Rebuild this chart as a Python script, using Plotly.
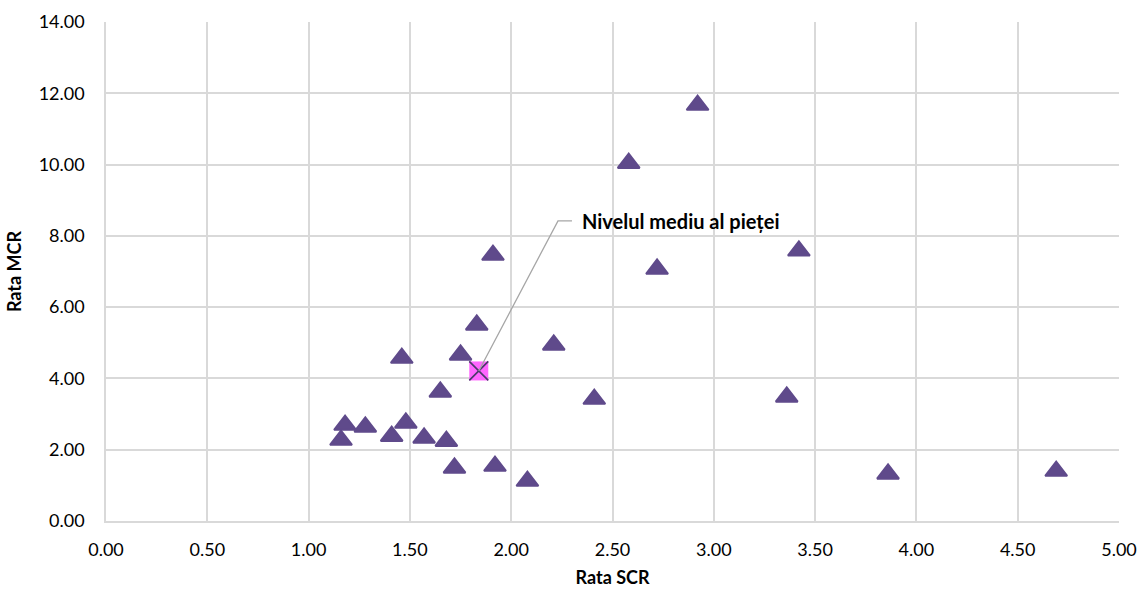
import plotly.graph_objects as go

# Company data: SCR ratio (x) vs MCR ratio (y)
scr = [2.92, 2.58, 1.91, 3.42, 2.72, 1.83, 2.21, 1.46, 1.75, 1.65, 2.41, 3.36,
       1.18, 1.28, 1.48, 1.41, 1.57, 1.68, 1.16, 1.72, 1.92, 2.08, 3.86, 4.69]
mcr = [11.67, 10.04, 7.46, 7.58, 7.07, 5.50, 4.94, 4.57, 4.66, 3.62, 3.42, 3.48,
       2.69, 2.64, 2.75, 2.38, 2.33, 2.24, 2.27, 1.49, 1.54, 1.12, 1.32, 1.40]

# Market average
market_scr = [1.84]
market_mcr = [4.21]
market_label = "Nivelul mediu al pieței"

x_ticks = [0, 0.5, 1.0, 1.5, 2.0, 2.5, 3.0, 3.5, 4.0, 4.5, 5.0]
y_ticks = [0, 2, 4, 6, 8, 10, 12, 14]

# label placement (data coordinates)
label_x, label_y = 2.34, 8.42
elbow_x, elbow_end_x = 2.231, 2.30

FONT = "Lato"
purple = "#5F4A8B"

fig = go.Figure()
fig.add_trace(go.Scatter(
    x=scr, y=mcr, mode="markers",
    marker=dict(symbol="triangle-up", size=19, color=purple,
                line=dict(width=2, color=purple)),
    showlegend=False, hoverinfo="x+y"))

fig.add_shape(type="path",
              path=f"M {market_scr[0]},{market_mcr[0]} L {elbow_x},{label_y} L {elbow_end_x},{label_y}",
              xref="x", yref="y", line=dict(color="#A6A6A6", width=1.3), layer="above")

fig.add_trace(go.Scatter(
    x=market_scr, y=market_mcr, mode="markers",
    marker=dict(symbol="square", size=19, color="#FF66FF", line=dict(width=0)),
    showlegend=False))
fig.add_trace(go.Scatter(
    x=market_scr, y=market_mcr, mode="markers",
    marker=dict(symbol="x-thin-open", size=19, color="#4A3A6A",
                line=dict(width=1.6, color="#4A3A6A")),
    showlegend=False))

fig.add_annotation(x=label_x, y=label_y, xref="x", yref="y", text=f"<b>{market_label}</b>",
                   showarrow=False, xanchor="left", yanchor="middle",
                   font=dict(family=FONT, size=20, color="#000000"))

fig.update_layout(
    width=1142, height=590,
    margin=dict(l=106, r=23, t=22, b=69),
    paper_bgcolor="white", plot_bgcolor="white",
    font=dict(family=FONT, size=18, color="#000000"),
    xaxis=dict(range=[0, 5], tickvals=x_ticks, tickformat=".2f", automargin=False,
               showgrid=True, gridcolor="#D9D9D9", gridwidth=1.5,
               showline=True, linecolor="#D9D9D9", linewidth=1.5,
               zeroline=False, ticks="", ticklabelstandoff=12,
               title=dict(text="<b>Rata SCR</b>", font=dict(family=FONT, size=18), standoff=12)),
    yaxis=dict(range=[0, 14], tickvals=y_ticks, tickformat=".2f", automargin=False,
               showgrid=True, gridcolor="#D9D9D9", gridwidth=1.5,
               showline=True, linecolor="#D9D9D9", linewidth=1.5,
               zeroline=False, ticks="", ticklabelstandoff=16,
               title=dict(text="<b>Rata MCR</b>", font=dict(family=FONT, size=18), standoff=12)),
)

fig.write_html("out.html")
